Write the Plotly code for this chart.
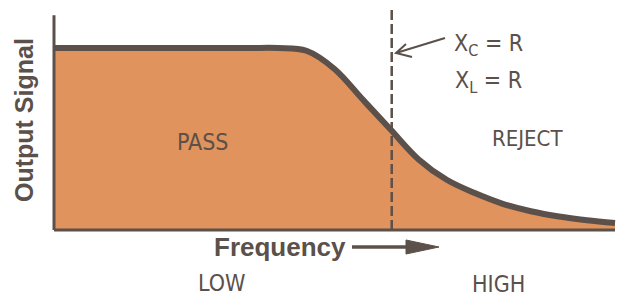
import plotly.graph_objects as go

# Data (arbitrary units)
frequency = [0, 0.5, 1, 1.5, 2, 2.5, 3, 3.5, 4.0, 4.5, 5.0, 5.5, 6.0, 6.5, 7.0, 7.5, 8.0, 8.5, 9.0, 9.5, 10.0]
output_signal = [1.0, 1.0, 1.0, 1.0, 1.0, 1.0, 1.0, 1.0, 1.0, 0.985, 0.885, 0.718, 0.552, 0.388, 0.276, 0.203, 0.144, 0.103, 0.074, 0.054, 0.039]
cutoff = 6.02
axis_top = 1.18
dash_top = 1.22

INK = "#5b504a"
FILL = "#e0935c"
NARROW = "DejaVu Sans Condensed, Liberation Sans Narrow, sans-serif"
BOLD = "Liberation Sans, Arial, sans-serif"

W, H = 619, 296
def px(x, y):
    return dict(xref="paper", yref="paper", x=x / W, y=1 - y / H)
def pp(x, y):
    return f"{x / W:.5f},{1 - y / H:.5f}"

fig = go.Figure()
fig.add_trace(go.Scatter(
    x=frequency, y=output_signal, mode="lines",
    line=dict(color=INK, width=6, shape="spline", smoothing=1.0),
    fill="tozeroy", fillcolor=FILL, hoverinfo="skip", showlegend=False,
))

shapes = [
    dict(type="line", xref="x", yref="y", x0=0, x1=0, y0=0, y1=axis_top,
         line=dict(color=INK, width=3)),
    dict(type="line", xref="x", yref="y", x0=0, x1=frequency[-1], y0=0, y1=0,
         line=dict(color=INK, width=3)),
    dict(type="line", xref="x", yref="y", x0=cutoff, x1=cutoff, y0=0, y1=dash_top,
         line=dict(color=INK, width=2.5, dash="10px,4px")),
    # arrow after "Frequency"
    dict(type="line", xref="paper", yref="paper",
         x0=352 / W, x1=412 / W, y0=1 - 247 / H, y1=1 - 247 / H,
         line=dict(color=INK, width=3.5)),
    dict(type="path", xref="paper", yref="paper",
         path=f"M{pp(406, 240)} L{pp(439, 247)} L{pp(406, 254)} Z",
         fillcolor=INK, line=dict(color=INK, width=1)),
    # arrow pointing to the cutoff line
    dict(type="path", xref="paper", yref="paper",
         path=f"M{pp(445, 38)} L{pp(396, 53)} M{pp(406, 44)} L{pp(396, 53)} L{pp(412, 57)}",
         line=dict(color=INK, width=2)),
]

annotations = [
    dict(text="PASS", font=dict(family=NARROW, size=23, color=INK), **px(202, 142)),
    dict(text="REJECT", font=dict(family=NARROW, size=22, color=INK), **px(527, 139)),
    dict(text="LOW", font=dict(family=NARROW, size=23, color=INK), **px(221, 283)),
    dict(text="HIGH", font=dict(family=NARROW, size=23, color=INK), **px(498, 284)),
    dict(text="X<sub>C</sub> = R", font=dict(family=NARROW, size=23, color=INK), **px(488, 45)),
    dict(text="X<sub>L</sub> = R", font=dict(family=NARROW, size=23, color=INK), **px(488, 82)),
    dict(text="<b>Output Signal</b>", textangle=-90,
         font=dict(family=BOLD, size=25, color=INK), **px(24, 120)),
    dict(text="<b>Frequency</b>",
         font=dict(family=BOLD, size=26, color=INK), **px(280, 247)),
]
for a in annotations:
    a.update(showarrow=False, xanchor="center", yanchor="middle")

fig.update_layout(
    width=W, height=H, margin=dict(l=0, r=0, t=0, b=0),
    paper_bgcolor="white", plot_bgcolor="white",
    xaxis=dict(range=[-54 / 56.1, 565 / 56.1], visible=False, fixedrange=True),
    yaxis=dict(range=[(230 - 296) / 182, 230 / 182], visible=False, fixedrange=True),
    shapes=shapes, annotations=annotations, showlegend=False,
)

fig.write_html("out.html", config={"displayModeBar": False},
               post_script="document.body.style.margin='0';")
